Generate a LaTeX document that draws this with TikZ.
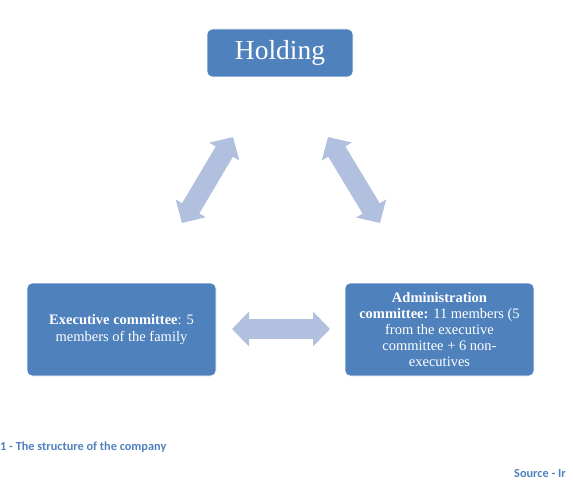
\documentclass[tikz,border=0pt]{standalone}
\usepackage{fontspec}
\setmainfont{Liberation Serif}
\newfontfamily\capfont{Carlito}
\usetikzlibrary{arrows.meta}
\definecolor{boxblue}{HTML}{4F81BD}
\definecolor{arrowblue}{HTML}{B1C0DF}
\definecolor{capblue}{HTML}{4F81BD}
\tikzset{
  blockbox/.style={fill=boxblue, draw=white, line width=0.8pt, rounded corners=5pt, text=white, align=center, inner sep=0pt},
  bigarrow/.style={draw=arrowblue, line width=20pt,
    {Triangle[width=34pt 0 0,length=17pt 0 0]}-{Triangle[width=34pt 0 0,length=17pt 0 0]}},
  captext/.style={anchor=west, inner sep=0pt, text=capblue, font=\capfont\bfseries\fontsize{12.3}{14}\selectfont}
}
\begin{document}
\begin{tikzpicture}[x=1pt,y=-1pt]
\useasboundingbox (0,0) rectangle (573,481);
\node[blockbox, minimum width=146pt, minimum height=48pt, font=\fontsize{27.5}{30}\selectfont] (hold) at (280,53) {Holding};
\node[blockbox, minimum width=189pt, minimum height=93pt, font=\fontsize{14.5}{17}\selectfont] (exec) at (121.5,329.5) {\textbf{Executive committee}: 5\\members of the family};
\node[blockbox, minimum width=189pt, minimum height=93pt, font=\fontsize{14.5}{16}\selectfont] (admin) at (439.5,329.5) {\textbf{Administration}\\\textbf{committee:} 11 members (5\\from the executive\\committee + 6 non-\\executives};
\coordinate (l1) at (182,223);
\coordinate (l2) at (233,137);
\coordinate (r1) at (328,137);
\coordinate (r2) at (380,223);
\coordinate (h1) at (232,329);
\coordinate (h2) at (330,329);
\draw[bigarrow] (l1) -- (l2);
\draw[bigarrow] (r1) -- (r2);
\draw[bigarrow] (h1) -- (h2);
\node[captext] (cap) at (0,447) {1 - The structure of the company};
\node[captext] (src) at (514,474) {Source - Ir};
\end{tikzpicture}
\end{document}
